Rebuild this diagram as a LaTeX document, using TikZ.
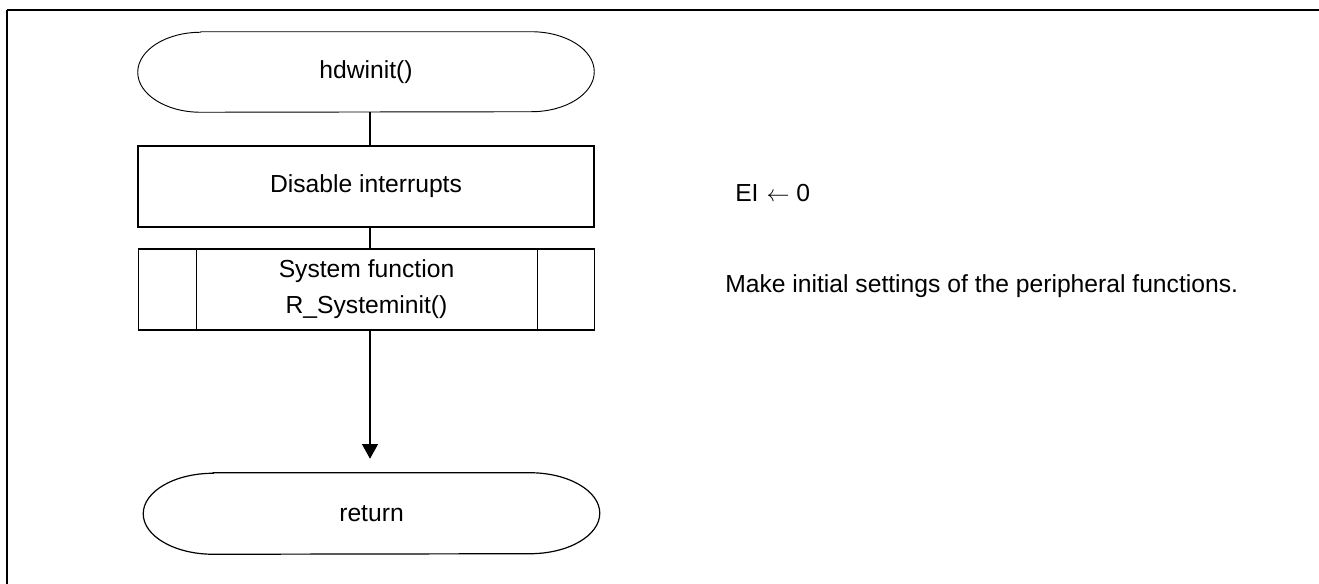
\documentclass[tikz,border=0pt]{standalone}
\usepackage{fontspec}
\setmainfont{Liberation Sans}
\usetikzlibrary{arrows.meta}
\tikzset{
  txt/.style={font=\fontsize{18.5}{27}\selectfont},
  box/.style={draw, txt, line width=0.9pt, minimum width=342pt, minimum height=60.75pt, inner sep=0pt, align=center},
  termtext/.style={txt, minimum width=342pt, minimum height=60pt, inner sep=0pt},
  note/.style={txt, anchor=west, inner sep=0pt},
  conn/.style={line width=0.9pt},
}
\begin{document}
\begin{tikzpicture}[x=0.75pt,y=0.75pt]
\clip (0,0) rectangle (1319,584);
\fill[white] (0,0) rectangle (1319,584);
% frame (only top and left edges visible)
\draw[line width=1.8pt] (7,574) -- (1330,574);
\draw[line width=1.8pt] (7,574) -- (7,-10);
% start terminator
\node[termtext] (start) at (366,512) {hdwinit()};
\draw[line width=0.7pt] ([xshift=47.25pt]start.north west) -- ([xshift=-47.25pt]start.north east)
  arc[start angle=90, end angle=-90, x radius=47.25pt, y radius=30pt]
  -- ([xshift=47.25pt]start.south west)
  arc[start angle=270, end angle=90, x radius=47.25pt, y radius=30pt] -- cycle;
% process box
\node[box] (dis) at (366,397.5) {Disable interrupts};
% predefined process
\node[box] (sys) at (366.5,294.5) {System function\\R\_Systeminit()};
\draw[line width=0.9pt] ([xshift=44pt]sys.north west) -- ([xshift=44pt]sys.south west);
\draw[line width=0.9pt] ([xshift=-43pt]sys.north east) -- ([xshift=-43pt]sys.south east);
% end terminator
\node[termtext, minimum height=60.75pt] (end) at (371.5,70.5) {return};
\draw[line width=0.9pt] ([xshift=52.5pt]end.north west) -- ([xshift=-52.5pt]end.north east)
  arc[start angle=90, end angle=-90, x radius=52.5pt, y radius=30.375pt]
  -- ([xshift=52.5pt]end.south west)
  arc[start angle=270, end angle=90, x radius=52.5pt, y radius=30.375pt] -- cycle;
% connectors (vertical spine at x = 370)
\coordinate (sp1) at (370,0);
\draw[conn] (start.south -| sp1) -- (dis.north -| sp1);
\draw[conn] (dis.south -| sp1) -- (sys.north -| sp1);
\draw[conn, -{Triangle[width=12pt,length=11pt]}, shorten >=10.5pt] (sys.south -| sp1) -- (end.north -| sp1);
% notes
\node[note] (n1) at (735,391) {EI\hspace{6pt}$\leftarrow$\hspace{5pt}0};
\node[note] (n2) at (725,298) {Make initial settings of the peripheral functions.};
\end{tikzpicture}
\end{document}
